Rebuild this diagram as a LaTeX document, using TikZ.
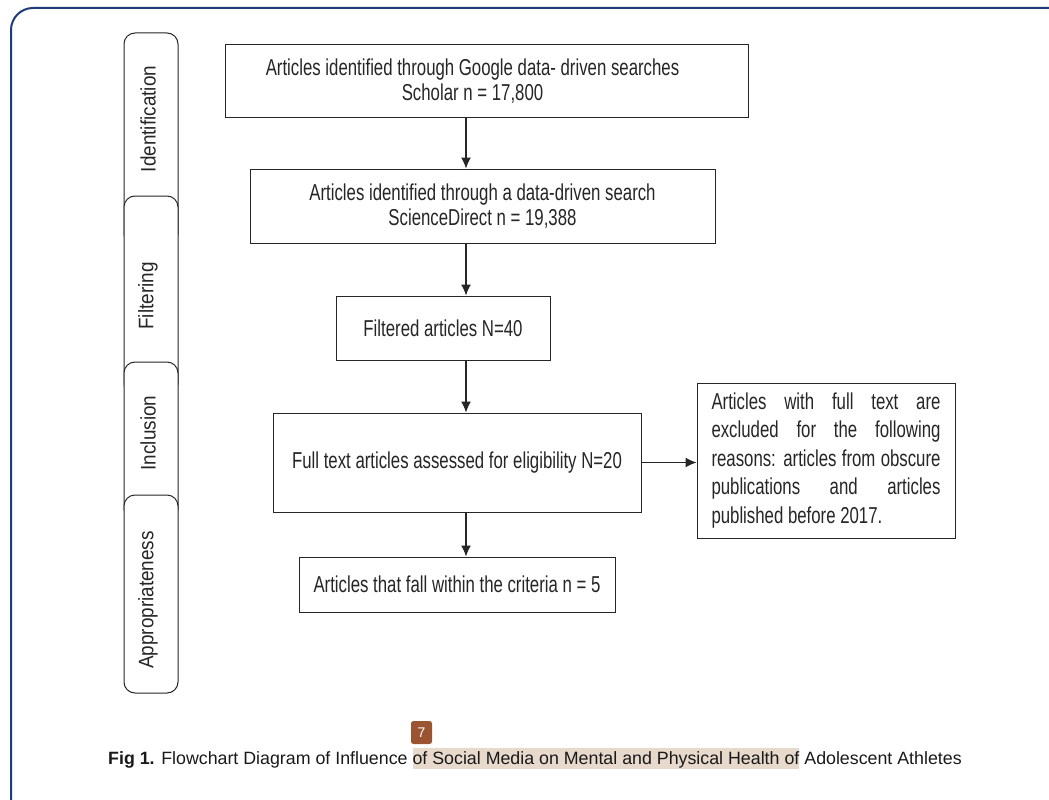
\documentclass[tikz,border=0pt]{standalone}
\usepackage{fontspec}
\setmainfont{Liberation Sans}
\newfontfamily\narrowfont[FakeStretch=0.73]{Liberation Sans}
\newfontfamily\tabfont[FakeStretch=0.9]{Liberation Sans}
\usetikzlibrary{arrows.meta,positioning}
\definecolor{framenavy}{HTML}{1F3B78}
\definecolor{hlbeige}{HTML}{E8D9CD}
\definecolor{badgebrown}{HTML}{9A5432}
\tikzset{
  flowbox/.style={draw=black!85, line width=1pt, fill=white, align=center, inner sep=0pt,
    text=black!85, font=\narrowfont\fontsize{23}{25}\selectfont},
  tabbox/.style={draw=black!85, line width=1pt, fill=white, rounded corners=11pt},
  tablabel/.style={rotate=90, text=black!85, font=\tabfont\fontsize{21}{22}\selectfont, inner sep=0pt},
  arr/.style={draw=black!85, line width=1.2pt, -{Latex[length=11pt,width=10pt]}},
}
\begin{document}
\begin{tikzpicture}[x=1pt,y=-1pt]
\useasboundingbox (0,0) rectangle (1049,800);
% outer frame
\draw[framenavy, line width=2pt, rounded corners=22pt] (11,8) rectangle (1075,830);
% side tabs
\draw[tabbox] (124,33) rectangle (178,245);
\draw[tabbox] (124,196) rectangle (178,395);
\draw[tabbox] (124,362) rectangle (178,520);
\draw[tabbox] (124,495) rectangle (178,693);
\node[tablabel] (tid) at (148,119) {Identification};
\node[tablabel] (tfi) at (148,296) {Filtering};
\node[tablabel] (tin) at (148,433) {Inclusion};
\node[tablabel] (tap) at (148,600) {Appropriateness};
% flow boxes
\coordinate (spine) at (466,0);
\node[flowbox, minimum width=523pt, minimum height=72pt] (b1) at (486.5,81)
  {Articles identified through Google data- driven searches\hspace*{28pt}\\Scholar n = 17,800\hspace*{28pt}};
\node[flowbox, minimum width=465pt, minimum height=74pt] (b2) at (482.5,206)
  {Articles identified through a data-driven search\\ScienceDirect n = 19,388};
\node[flowbox, minimum width=214pt, minimum height=64pt] (b3) at (443,328)
  {Filtered articles N=40};
\node[flowbox, minimum width=368pt, minimum height=99pt] (b4) at (457,462.5)
  {Full text articles assessed for eligibility N=20};
\node[flowbox, minimum width=316pt, minimum height=55pt] (b5) at (457,584.5)
  {Articles that fall within the criteria n = 5};
\node[flowbox, minimum width=258pt, minimum height=155pt, text width=229pt, align=justify,
  font=\narrowfont\fontsize{23}{28.5}\selectfont] (b6) at (826,460.5)
  {Articles with full text are\linebreak excluded for the following\linebreak reasons: articles from obscure\linebreak publications and articles\linebreak published before 2017.};
% connectors
\draw[arr] (b1.south -| spine) -- (b2.north -| spine);
\draw[arr] (b2.south -| spine) -- (b3.north -| spine);
\draw[arr] (b3.south -| spine) -- (b4.north -| spine);
\draw[arr] (b4.south -| spine) -- (b5.north -| spine);
\draw[arr] (b4.east) -- (b4.east -| b6.west);
% caption
\node[anchor=base west, inner sep=0pt, text=black!90, font=\fontsize{17.8}{20}\selectfont] (cap) at (108,764)
  {\textbf{Fig 1.} Flowchart Diagram of Influence {\setlength{\fboxsep}{0pt}\colorbox{hlbeige}{\rule[-5pt]{0pt}{21pt}of Social Media on Mental and Physical Health of}} Adolescent Athletes};
\node[fill=badgebrown, rounded corners=2.5pt, minimum width=21pt, minimum height=23pt, inner sep=0pt,
  text=white, font=\fontsize{14}{15}\selectfont] (badge) at (421.5,732.5) {7};
\end{tikzpicture}
\end{document}
